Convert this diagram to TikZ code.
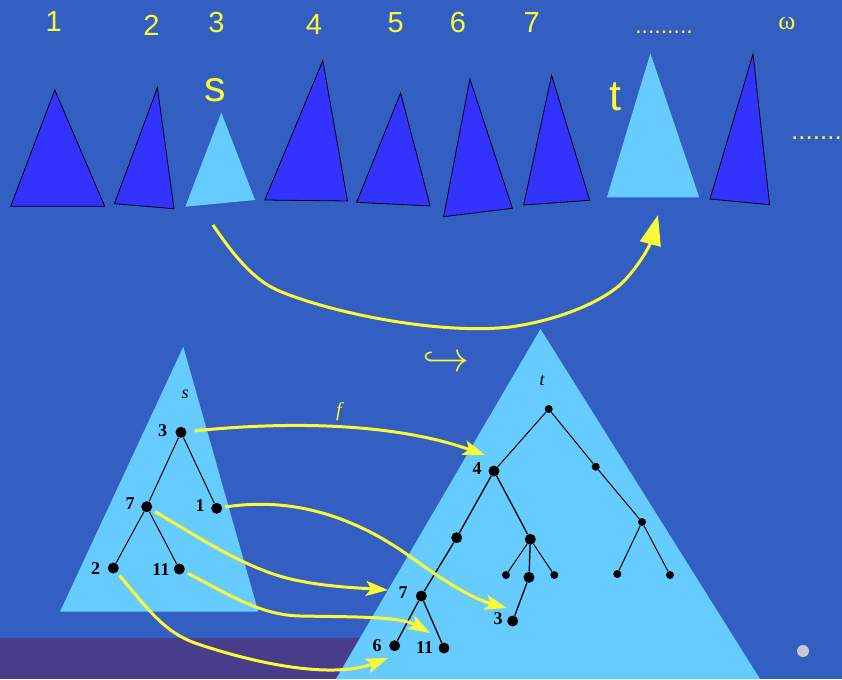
\documentclass[tikz,border=0pt]{standalone}
\usepackage{fontspec}
\setmainfont{Liberation Serif}
\newfontfamily\arial{Liberation Sans}
\usetikzlibrary{arrows.meta}
\definecolor{bg}{RGB}{51,94,194}
\definecolor{purp}{RGB}{72,61,139}
\definecolor{dblue}{RGB}{51,51,255}
\definecolor{lblue}{RGB}{102,204,255}
\definecolor{yel}{RGB}{250,250,55}
\definecolor{gdot}{RGB}{200,200,210}
\begin{document}
\begin{tikzpicture}[x=1pt,y=-1pt,
  dtri/.style={fill=dblue,draw=black,line width=0.8pt,line join=miter},
  ltri/.style={fill=lblue},
  toplab/.style={text=yel,font=\arial\fontsize{29}{30}\selectfont,inner sep=0},
  biglab/.style={text=yel,font=\arial\fontsize{43}{44}\selectfont,inner sep=0},
  dotlab/.style={text=yel,font=\arial\fontsize{23}{24}\selectfont,inner sep=0},
  bd/.style={circle,fill=black,inner sep=0,minimum size=11pt},
  sd/.style={circle,fill=black,inner sep=0,minimum size=8pt},
  nl/.style={font=\bfseries\fontsize{18}{18}\selectfont,inner sep=0},
  il/.style={font=\itshape\fontsize{18}{18}\selectfont,inner sep=0},
  tedge/.style={line width=1.3pt},
  sedge/.style={line width=1pt},
  yarr/.style={draw=yel,line width=3pt,-{Stealth[length=22pt,width=15pt,inset=5pt]}},
  ytop/.style={draw=yel,line width=3pt,-{Triangle[length=30pt,width=21pt]}},
]
\useasboundingbox (0,0) rectangle (842,679);
\fill[bg] (0,0) rectangle (842,679);
\fill[purp] (0,638) rectangle (560,679);
\fill[gdot] (803,651) circle (6pt);

% top row of triangles
\draw[dtri] (10.7,206.3) -- (54.8,90) -- (104.7,206.3) -- cycle;
\draw[dtri] (114.4,203.7) -- (157.4,87.7) -- (174,208.7) -- cycle;
\fill[ltri] (185.3,206.7) -- (221.3,112.7) -- (255.1,200) -- cycle;
\draw[dtri] (264.8,200) -- (322.8,60.7) -- (347.5,201) -- cycle;
\draw[dtri] (356.6,202.3) -- (400.6,93) -- (430.2,206) -- cycle;
\draw[dtri] (443.6,216.7) -- (469.9,79) -- (512.4,208.3) -- cycle;
\draw[dtri] (523.6,205) -- (551.6,75.3) -- (589.7,200.3) -- cycle;
\fill[ltri] (606.9,197.3) -- (650.4,53.3) -- (699.2,197.3) -- cycle;
\draw[dtri] (710,199) -- (753,54) -- (769.6,204.7) -- cycle;

\node[toplab] (n1) at (53.7,22) {1};
\node[toplab] (n2) at (151.4,25) {2};
\node[toplab] (n3) at (216.4,22.8) {3};
\node[toplab] (n4) at (314,24.7) {4};
\node[toplab] (n5) at (395.8,22.8) {5};
\node[toplab] (n6) at (458,22.8) {6};
\node[toplab] (n7) at (531.7,22.8) {7};
\node[dotlab] (ndots) at (664,32.5) {.........};
\node[text=yel,font=\fontsize{26}{26}\selectfont,inner sep=0] (nomega) at (787,24) {ω};
\node[biglab] (ls) at (214.8,90.5) {s};
\node[biglab] (lt) at (615,97) {t};
\node[text=yel,font=\arial\fontsize{26}{27}\selectfont,inner sep=0,anchor=west] (rdots) at (791,138) {.......};

% top arrow
\coordinate (ts) at (213,225);
\coordinate (te) at (658,215);
\draw[ytop] (ts) .. controls (236,259) and (255,280) .. (277,290)
  .. controls (330,313) and (440,335) .. (510,327)
  .. controls (560,320) and (600,302) .. (620,285)
  .. controls (638,268) and (650,245) .. (te);

% big triangles
\fill[ltri] (183.3,346.7) -- (258.3,611.7) -- (60,611.7) -- cycle;
\fill[ltri] (540.5,329) -- (760,679) -- (336,679) -- cycle;

\node[text=yel,inner sep=0] (hook) at (446,362) {\scalebox{4.2}{$\hookrightarrow$}};

% s tree
\node[il] (slab) at (185,394) {s};
\node[bd] (s3) at (181,432.3) {};
\node[bd] (s7) at (146.7,506.7) {};
\node[bd] (s1) at (216.7,508.3) {};
\node[bd] (s2) at (113.3,568) {};
\node[bd] (s11) at (179.3,569) {};
\draw[sedge] (s3) -- (s7) (s3) -- (s1) (s7) -- (s2) (s7) -- (s11);
\node[nl] (ls3) at (162.7,430.7) {3};
\node[nl] (ls7) at (130,504) {7};
\node[nl] (ls1) at (200,505.7) {1};
\node[nl] (ls2) at (95.7,569) {2};
\node[nl] (ls11) at (161,570) {11};

% t tree
\node[il] (tlab) at (542,381) {t};
\node[sd] (r) at (548.7,409) {};
\node[sd] (tA) at (595.7,466.7) {};
\node[sd] (tB) at (642,522) {};
\node[sd] (tB1) at (617.3,574) {};
\node[sd] (tB2) at (670,575) {};
\node[bd] (t4) at (494,471) {};
\node[bd] (tL) at (456.7,537.7) {};
\node[bd] (tR) at (530.3,539.3) {};
\node[sd] (tR1) at (506,575) {};
\node[bd] (tR2) at (529,577.3) {};
\node[sd] (tR3) at (554.3,575) {};
\node[bd] (t3) at (512.7,621) {};
\node[bd] (t7) at (421.3,596) {};
\node[bd] (t6) at (394.7,645.7) {};
\node[bd] (t11) at (444,648) {};
\draw[sedge] (r) -- (t4) (r) -- (tA) (tA) -- (tB) (tB) -- (tB1) (tB) -- (tB2)
  (tR) -- (tR1) (tR) -- (tR3);
\draw[tedge] (t4) -- (tL) (t4) -- (tR) (tR) -- (tR2) (tR2) -- (t3)
  (tL) -- (t7) (t7) -- (t6) (t7) -- (t11);
\node[nl] (lt4) at (477,468.7) {4};
\node[nl] (lt3) at (498,619) {3};
\node[nl] (lt7) at (403,593) {7};
\node[nl] (lt6) at (377,646) {6};
\node[nl] (lt11) at (424.5,648) {11};

% yellow mapping arrows
\coordinate (a4) at (485,455);
\coordinate (a3) at (507,608);
\coordinate (a7) at (388,590);
\coordinate (a11) at (430,633);
\coordinate (a6) at (388,658);
\draw[yarr,shorten <=8pt] (s3) .. controls (300,420) and (400,425) .. (a4);
\node[text=yel,font=\itshape\fontsize{20}{20}\selectfont,inner sep=0] (flab) at (339,412) {f};
\draw[yarr,shorten <=3pt] (s1) .. controls (290,497) and (350,515) .. (405,553)
  .. controls (440,578) and (470,598) .. (a3);
\draw[yarr,shorten <=4pt] (s7) .. controls (200,538) and (250,572) .. (300,581)
  .. controls (330,587) and (360,588) .. (a7);
\draw[yarr,shorten <=4pt] (s11) .. controls (230,595) and (260,615) .. (300,616)
  .. controls (350,617) and (400,616) .. (a11);
\draw[yarr,shorten <=4pt] (s2) .. controls (150,612) and (165,632) .. (195,643)
  .. controls (250,662) and (330,680) .. (a6);
\end{tikzpicture}
\end{document}
